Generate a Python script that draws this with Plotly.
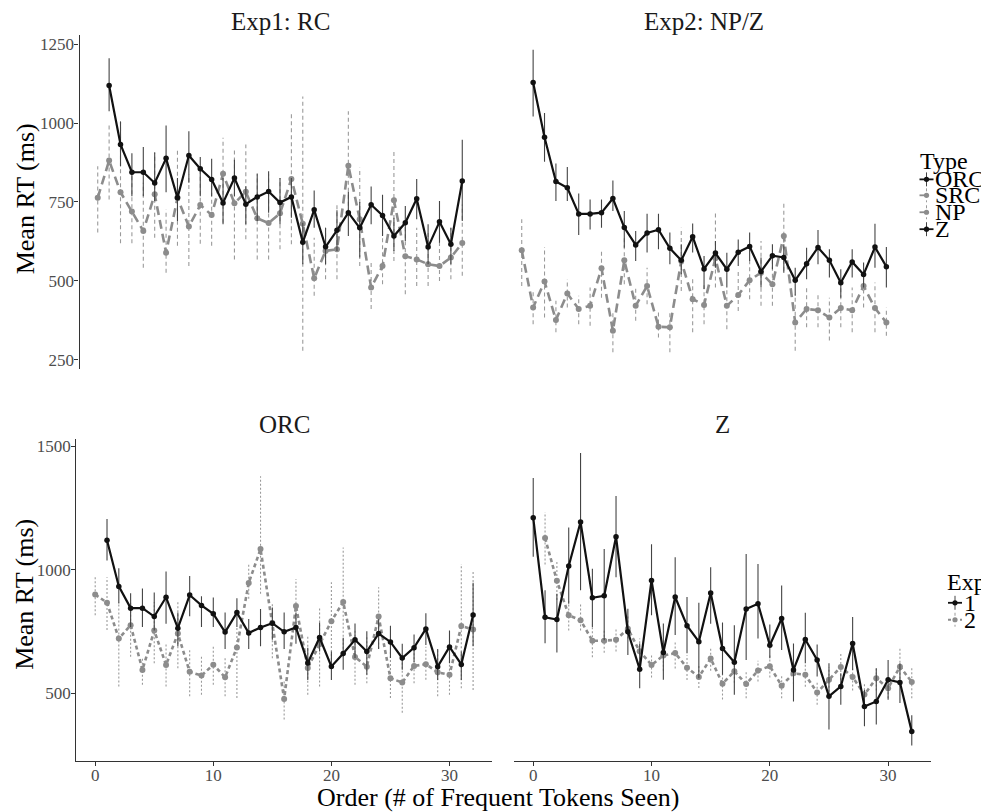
import plotly.graph_objects as go

W, H = 989, 812
OFF = 8  # page body margin in the browser

# ---------------- data ----------------
order_all = list(range(0, 33))
order_from1 = list(range(1, 33))

# Exp1 ORC (orders 1..32)
orc1_mean = [1119, 932, 844, 844, 810, 888, 763, 897, 855, 821, 747, 826, 743, 766, 783, 748,
             766, 622, 725, 608, 660, 716, 668, 741, 707, 642, 684, 760, 607, 687, 616, 816]
orc1_lo = [1037, 863, 768, 768, 753, 781, 690, 811, 768, 768, 679, 768, 679, 690, 716, 679,
           700, 553, 668, 553, 595, 642, 574, 679, 642, 595, 626, 695, 553, 621, 553, 690]
orc1_hi = [1205, 1005, 904, 924, 907, 992, 826, 974, 892, 887, 826, 884, 800, 840, 847, 826,
           826, 684, 786, 668, 724, 782, 750, 799, 773, 700, 737, 823, 679, 753, 668, 947]

# Exp1 SRC (orders 0..32)
src1_mean = [763, 881, 781, 720, 658, 774, 589, 763, 672, 740, 709, 839, 746, 782, 698, 683, 714,
             823, 681, 508, 595, 600, 865, 695, 479, 547, 755, 578, 568, 553, 547, 574, 620]
src1_lo = [653, 758, 619, 619, 542, 637, 526, 611, 547, 618, 611, 684, 568, 632, 568, 568, 600,
           616, 279, 453, 505, 505, 716, 547, 411, 489, 563, 458, 484, 484, 500, 505, 516]
src1_hi = [863, 1000, 1005, 847, 811, 905, 726, 916, 837, 847, 821, 953, 916, 932, 837, 837, 826,
           1032, 1084, 637, 668, 742, 1037, 858, 563, 679, 916, 679, 668, 653, 647, 668, 742]

# Exp2 NP (orders 0..32)
np2_mean = [597, 416, 498, 376, 460, 411, 421, 540, 342, 565, 421, 484, 355, 353, 563, 442, 424,
            572, 421, 455, 502, 526, 489, 642, 368, 411, 407, 384, 414, 407, 484, 414, 368]
np2_lo = [484, 363, 384, 337, 416, 363, 358, 447, 274, 489, 374, 426, 321, 274, 468, 337, 363,
          479, 347, 405, 442, 421, 421, 532, 279, 353, 353, 311, 353, 337, 416, 337, 326]
np2_hi = [695, 468, 607, 437, 505, 453, 479, 600, 405, 637, 479, 542, 405, 405, 668, 511, 489,
          716, 479, 537, 574, 626, 584, 753, 458, 484, 458, 447, 479, 479, 553, 495, 416]

# Exp2 Z (orders 1..32)
z2_mean = [1128, 955, 815, 795, 712, 712, 716, 761, 669, 614, 652, 662, 603, 565, 640, 538,
           588, 537, 591, 609, 530, 580, 574, 502, 554, 606, 565, 494, 560, 520, 607, 545]
z2_lo = [1021, 877, 753, 753, 645, 663, 668, 721, 605, 563, 590, 600, 553, 521, 590, 474,
         542, 479, 547, 563, 479, 537, 526, 453, 505, 553, 511, 447, 511, 479, 542, 479]
z2_hi = [1232, 1032, 872, 861, 777, 758, 758, 818, 721, 658, 713, 713, 653, 616, 682, 579,
         626, 589, 631, 653, 574, 616, 616, 542, 605, 661, 600, 537, 600, 558, 681, 607]

# Exp2 ORC (orders 0..32)
orc2_mean = [899, 866, 721, 775, 594, 753, 614, 741, 586, 571, 615, 564, 685, 946, 1083, 784, 476,
             853, 602, 698, 791, 869, 646, 607, 810, 560, 543, 610, 617, 584, 574, 772, 757]
orc2_lo = [815, 755, 527, 647, 534, 621, 527, 601, 487, 493, 534, 487, 480, 882, 902, 641, 393,
           748, 493, 527, 634, 647, 534, 540, 681, 480, 420, 540, 554, 487, 493, 520, 513]
orc2_hi = [976, 969, 869, 875, 647, 869, 700, 875, 681, 647, 688, 647, 768, 1023, 1378, 862, 554,
           962, 728, 849, 949, 1090, 755, 728, 929, 674, 647, 688, 688, 674, 674, 1023, 996]

# Exp1 Z (orders 0..32)
z1_mean = [1210, 807, 798, 1015, 1193, 886, 894, 1133, 748, 597, 956, 664, 889, 773, 708, 905, 681,
           625, 840, 862, 694, 802, 594, 717, 634, 487, 527, 701, 446, 466, 554, 543, 344]
z1_lo = [1052, 702, 664, 862, 916, 768, 714, 969, 654, 520, 815, 554, 735, 661, 560, 781, 574,
         493, 634, 721, 641, 674, 466, 621, 567, 353, 453, 594, 366, 373, 473, 460, 288]
z1_hi = [1371, 916, 902, 1170, 1472, 1003, 1083, 1298, 842, 701, 1103, 782, 1050, 889, 866, 1010, 786,
         775, 1063, 1023, 778, 936, 701, 825, 697, 621, 580, 808, 513, 601, 634, 621, 410]

panel_titles = ["Exp1: RC", "Exp2: NP/Z", "ORC", "Z"]
type_labels = ["ORC", "SRC", "NP", "Z"]
exp_labels = ["1", "2"]
top_yticks = [250, 500, 750, 1000, 1250]
bot_yticks = [500, 1000, 1500]
x_ticks = [0, 10, 20, 30]

# ---------------- styles ----------------
FONT = "Liberation Serif"
BLACK = "#111111"
GREY = "#8c8c8c"
STY = {
    "black": dict(lc=BLACK, lw=2.2, dash="solid", ec="#444444", edash="solid", ms=5.5),
    "grey_top": dict(lc=GREY, lw=2.6, dash="9px,5px", ec="#9a9a9a", edash="4px,3px", ms=6),
    "grey_bot": dict(lc=GREY, lw=2.6, dash="4px,3px", ec="#9a9a9a", edash="2px,2px", ms=6),
}

fig = go.Figure()


def add_series(xs, mean, lo, hi, ax, style):
    s = STY[style]
    ex, ey = [], []
    for x, l, h in zip(xs, lo, hi):
        ex += [x, x, None]
        ey += [l, h, None]
    xa = "x" if ax == 1 else f"x{ax}"
    ya = "y" if ax == 1 else f"y{ax}"
    fig.add_trace(go.Scatter(x=ex, y=ey, mode="lines", xaxis=xa, yaxis=ya,
                             line=dict(color=s["ec"], width=1.1, dash=s["edash"]),
                             showlegend=False, hoverinfo="skip", connectgaps=False))
    fig.add_trace(go.Scatter(x=xs, y=mean, mode="lines+markers", xaxis=xa, yaxis=ya,
                             line=dict(color=s["lc"], width=s["lw"], dash=s["dash"]),
                             marker=dict(color=s["lc"], size=s["ms"]),
                             showlegend=False))


# top-left: Exp1 RC
add_series(order_all, src1_mean, src1_lo, src1_hi, 1, "grey_top")
add_series(order_from1, orc1_mean, orc1_lo, orc1_hi, 1, "black")
# top-right: Exp2 NP/Z
add_series(order_all, np2_mean, np2_lo, np2_hi, 2, "grey_top")
add_series(order_from1, z2_mean, z2_lo, z2_hi, 2, "black")
# bottom-left: ORC by Exp
add_series(order_all, orc2_mean, orc2_lo, orc2_hi, 3, "grey_bot")
add_series(order_from1, orc1_mean, orc1_lo, orc1_hi, 3, "black")
# bottom-right: Z by Exp
add_series(order_from1, z2_mean, z2_lo, z2_hi, 4, "grey_bot")
add_series(order_all, z1_mean, z1_lo, z1_hi, 4, "black")


def dx(p):
    return (p - OFF) / W


def dy(p):
    return 1 - (p - OFF) / H


XR = [-1.6, 33.6]
TOPR = [222, 1279]
BOTR = [227, 1530]
tickfont = dict(family=FONT, size=17, color="#4d4d4d")
hidden = dict(showline=False, showticklabels=False, ticks="", showgrid=False, zeroline=False)
axstyle = dict(showline=True, linecolor="#333333", linewidth=1.1, ticks="outside", ticklen=4,
               tickcolor="#333333", tickfont=tickfont, showgrid=False, zeroline=False)

fig.update_layout(
    width=W, height=H, margin=dict(l=0, r=0, t=0, b=0),
    paper_bgcolor="white", plot_bgcolor="white", showlegend=False,
    font=dict(family=FONT, color="#1a1a1a"),
    xaxis=dict(domain=[dx(79.5), dx(480.5)], range=XR, anchor="y", **hidden),
    yaxis=dict(domain=[dy(368), dy(33)], range=TOPR, anchor="x", tickvals=top_yticks,
               ticklabelstandoff=-3, **axstyle),
    xaxis2=dict(domain=[dx(503.5), dx(904.6)], range=XR, anchor="y2", **hidden),
    yaxis2=dict(domain=[dy(368), dy(33)], range=TOPR, anchor="x2", **hidden),
    xaxis3=dict(domain=[dx(76.3), dx(492)], range=XR, anchor="y3", tickvals=x_ticks,
                ticklabelstandoff=-5, **axstyle),
    yaxis3=dict(domain=[dy(761.3), dy(438.3)], range=BOTR, anchor="x3", tickvals=bot_yticks,
                ticklabelstandoff=-3, **axstyle),
    xaxis4=dict(domain=[dx(514.3), dx(930.7)], range=XR, anchor="y4", tickvals=x_ticks,
                ticklabelstandoff=-5, **axstyle),
    yaxis4=dict(domain=[dy(761.3), dy(438.3)], range=BOTR, anchor="x4", **hidden),
)

ann = []
title_pos = [(280, 20), (704, 20), (284, 424), (722, 424)]
for t, (px, py) in zip(panel_titles, title_pos):
    ann.append(dict(text=t, x=dx(px), y=dy(py), xref="paper", yref="paper", showarrow=False,
                    xanchor="center", yanchor="middle", font=dict(family=FONT, size=25, color="#1a1a1a")))
for py in (198, 595):
    ann.append(dict(text="Mean RT (ms)", x=dx(25), y=dy(py), xref="paper", yref="paper",
                    showarrow=False, textangle=-90, xanchor="center", yanchor="middle",
                    font=dict(family=FONT, size=26, color="#000000")))
ann.append(dict(text="Order (# of Frequent Tokens Seen)", x=dx(498), y=dy(798), xref="paper",
                yref="paper", showarrow=False, xanchor="center", yanchor="middle",
                font=dict(family=FONT, size=26, color="#000000")))

# legends
LEGF = dict(family=FONT, size=24, color="#000000")
ann.append(dict(text="Type", x=dx(918), y=dy(160), xref="paper", yref="paper", showarrow=False,
                xanchor="left", yanchor="middle", font=LEGF))
type_y = [178, 194, 211, 228]
type_sty = ["black", "grey_top", "grey_top", "black"]
shapes = []


def key(cx, cy, style):
    s = STY[style]
    dash_h = "solid" if style == "black" else ("dash" if style == "grey_top" else "dot")
    dash_v = "solid" if style == "black" else "dot"
    shapes.append(dict(type="line", xref="paper", yref="paper", x0=dx(cx - 7), x1=dx(cx + 7),
                       y0=dy(cy), y1=dy(cy), line=dict(color=s["lc"], width=1.8, dash=dash_h)))
    shapes.append(dict(type="line", xref="paper", yref="paper", x0=dx(cx), x1=dx(cx),
                       y0=dy(cy - 7), y1=dy(cy + 7), line=dict(color=s["ec"], width=1, dash=dash_v)))
    shapes.append(dict(type="circle", xref="paper", yref="paper", x0=dx(cx - 2.6), x1=dx(cx + 2.6),
                       y0=dy(cy - 2.6), y1=dy(cy + 2.6), fillcolor=s["lc"], line=dict(width=0)))


for lab, py, st in zip(type_labels, type_y, type_sty):
    key(926.5, py, st)
    ann.append(dict(text=lab, x=dx(933), y=dy(py), xref="paper", yref="paper", showarrow=False,
                    xanchor="left", yanchor="middle", font=LEGF))

ann.append(dict(text="Exp", x=dx(945), y=dy(582), xref="paper", yref="paper", showarrow=False,
                xanchor="left", yanchor="middle", font=LEGF))
exp_y = [603, 620]
exp_sty = ["black", "grey_bot"]
for lab, py, st in zip(exp_labels, exp_y, exp_sty):
    key(955, py, st)
    ann.append(dict(text=lab, x=dx(962), y=dy(py), xref="paper", yref="paper", showarrow=False,
                    xanchor="left", yanchor="middle", font=LEGF))

fig.update_layout(annotations=ann, shapes=shapes)
fig.write_html("out.html")
